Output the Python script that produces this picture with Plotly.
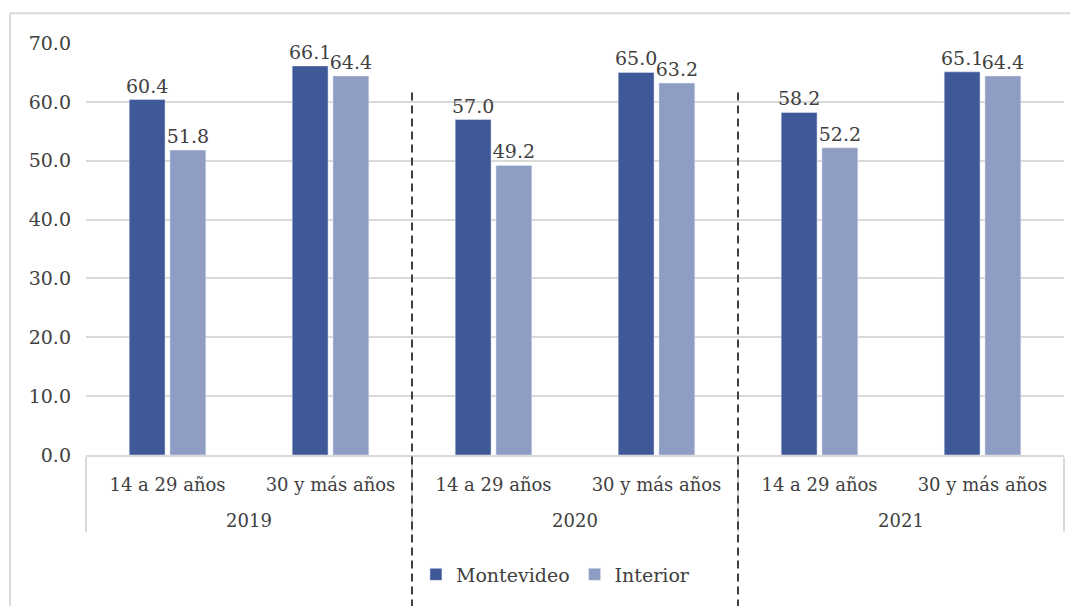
import plotly.graph_objects as go

# chart values
years = ["2019", "2019", "2020", "2020", "2021", "2021"]
age_groups = ["14 a 29 años", "30 y más años"] * 3
montevideo = [60.4, 66.1, 57.0, 65.0, 58.2, 65.1]
interior = [51.8, 64.4, 49.2, 63.2, 52.2, 64.4]
y_ticks = [0, 10, 20, 30, 40, 50, 60, 70]

FONT = "DejaVu Serif"
TEXT = "#404040"
GRID = "#D9D9D9"

# trailing blank line on the inner labels pushes the year row further down
inner_labels = [f"{a}<br><span style='font-size:26px'>\u00a0</span>" for a in age_groups]

fig = go.Figure()
fig.add_bar(
    x=[years, inner_labels],
    y=montevideo,
    name="Montevideo",
    marker_color="#3F5897",
    text=[f"{v:.1f}" for v in montevideo],
    textposition="outside",
    cliponaxis=False,
)
fig.add_bar(
    x=[years, inner_labels],
    y=interior,
    name="Interior",
    marker_color="#8F9CC3",
    text=[f"{v:.1f}" for v in interior],
    textposition="outside",
    cliponaxis=False,
)

fig.update_traces(
    textfont=dict(family=FONT, size=19, color=TEXT),
    constraintext="none",
)

# outer chart border (left and top only, the rest is cropped) and the dashed year separators
shapes = [
    dict(type="line", xref="paper", yref="paper", x0=-0.0777, x1=-0.0777, y0=1.072, y1=-0.5,
         line=dict(color=GRID, width=2)),
    dict(type="line", xref="paper", yref="paper", x0=-0.0777, x1=1.1, y0=1.072, y1=1.072,
         line=dict(color=GRID, width=2)),
]
for xp in (1 / 3, 2 / 3):
    shapes.append(
        dict(type="line", xref="paper", yref="paper", x0=xp, x1=xp, y0=0.88, y1=-0.4,
             line=dict(color="#404040", width=2, dash="8px,5px"))
    )

fig.update_layout(
    width=1070,
    height=598,
    margin=dict(l=78, r=14, t=35, b=147),
    paper_bgcolor="white",
    plot_bgcolor="white",
    barmode="group",
    bargap=0.5,
    bargroupgap=0.12,
    font=dict(family=FONT, size=19, color=TEXT),
    showlegend=True,
    legend=dict(
        orientation="h",
        x=0.48,
        xanchor="center",
        y=-0.29,
        yanchor="middle",
        font=dict(family=FONT, size=19, color=TEXT),
        itemwidth=30,
        tracegroupgap=0,
    ),
    shapes=shapes,
    xaxis=dict(
        type="multicategory",
        showline=True,
        linecolor=GRID,
        linewidth=2,
        showdividers=True,
        dividercolor=GRID,
        dividerwidth=2,
        ticklabelstandoff=12,
        tickfont=dict(family=FONT, size=18, color=TEXT),
    ),
    yaxis=dict(
        range=[0, 70],
        tickvals=y_ticks,
        tickformat=".1f",
        showgrid=True,
        gridcolor=GRID,
        gridwidth=2,
        zeroline=False,
        showline=False,
        ticklabelstandoff=14,
        tickfont=dict(family=FONT, size=19, color=TEXT),
    ),
)

fig.write_html("out.html")
